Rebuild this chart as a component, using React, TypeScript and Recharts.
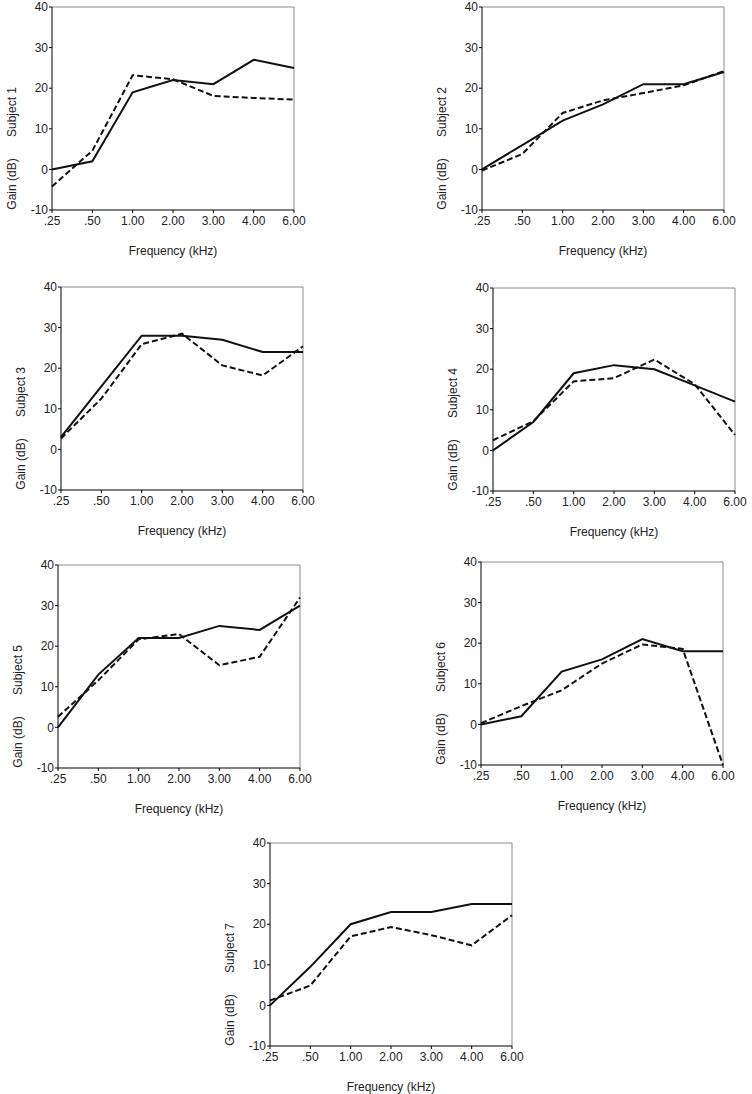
import { LineChart, Line, XAxis, YAxis, ReferenceLine } from "recharts";

const FREQS = [".25", ".50", "1.00", "2.00", "3.00", "4.00", "6.00"];
const GAIN_TICKS = [-10, 0, 10, 20, 30, 40];

// gain (dB) per frequency
const solid1 = [0, 2, 19, 22, 21, 27, 25];
const dashed1 = [-4.2, 4.6, 23.2, 22.2, 18.1, 17.6, 17.2];
const solid2 = [0, 6, 12, 16, 21, 21, 24];
const dashed2 = [-0.3, 3.8, 13.9, 17, 18.8, 20.7, 24.2];
const solid3 = [3, 15.5, 28, 28, 27, 24, 24];
const dashed3 = [2.7, 12.5, 25.9, 28.5, 20.7, 18.2, 25.4];
const solid4 = [0, 7, 19, 21, 20, 16, 12];
const dashed4 = [2.5, 7.2, 17, 17.8, 22.4, 16.3, 3.8];
const solid5 = [0, 13, 22, 22, 25, 24, 30];
const dashed5 = [2.6, 11.6, 21.7, 23, 15.3, 17.4, 32];
const solid6 = [0, 2, 13, 16, 21, 18, 18];
const dashed6 = [0.3, 4.5, 8.4, 15, 19.7, 18.6, -10];
const solid7 = [0, 9.5, 20, 23, 23, 25, 25];
const dashed7 = [1.2, 4.9, 17, 19.3, 17.3, 14.8, 22.2];

const PANELS = [
  { name: "Subject 1", solid: solid1, dashed: dashed1, x: 52, y: 7 },
  { name: "Subject 2", solid: solid2, dashed: dashed2, x: 482, y: 7 },
  { name: "Subject 3", solid: solid3, dashed: dashed3, x: 61, y: 287 },
  { name: "Subject 4", solid: solid4, dashed: dashed4, x: 493, y: 288 },
  { name: "Subject 5", solid: solid5, dashed: dashed5, x: 58, y: 565 },
  { name: "Subject 6", solid: solid6, dashed: dashed6, x: 481, y: 562 },
  { name: "Subject 7", solid: solid7, dashed: dashed7, x: 270, y: 843 },
];

const FONT = "Arial, 'Liberation Sans', sans-serif";
const TEXT = "#222";
const PLOT_W = 242;
const PLOT_H = 203;
const Y_AXIS_W = 60;
const X_AXIS_H = 60;
const TOP = 10;
const RIGHT = 16;

function Panel({ name, solid, dashed, x, y }: any) {
  const data = FREQS.map((f, i) => ({ f, solid: solid[i], dashed: dashed[i] }));
  const tick = { fontSize: 12, fill: TEXT, fontFamily: FONT };

  return (
    <div style={{ position: "absolute", left: x - Y_AXIS_W, top: y - TOP }}>
      <LineChart
        width={Y_AXIS_W + PLOT_W + RIGHT}
        height={TOP + PLOT_H + X_AXIS_H}
        data={data}
        margin={{ top: TOP, right: RIGHT, left: 0, bottom: 0 }}
      >
        <XAxis
          dataKey="f"
          height={X_AXIS_H}
          interval={0}
          tick={tick}
          tickSize={3}
          tickMargin={3}
          axisLine={{ stroke: "#000" }}
          tickLine={{ stroke: "#000" }}
          label={{
            content: ({ viewBox }: any) => (
              <text
                x={viewBox.x + viewBox.width / 2}
                y={viewBox.y + 45}
                textAnchor="middle"
                fontSize={12}
                fontFamily={FONT}
                fill={TEXT}
              >
                Frequency (kHz)
              </text>
            ),
          }}
        />
        <YAxis
          type="number"
          width={Y_AXIS_W}
          domain={[-10, 40]}
          ticks={GAIN_TICKS}
          interval={0}
          tick={tick}
          tickSize={3}
          tickMargin={1}
          axisLine={{ stroke: "#000" }}
          tickLine={{ stroke: "#000" }}
          label={{
            content: ({ viewBox }: any) => {
              const cx = viewBox.x + viewBox.width - 40;
              const top = viewBox.y;
              return (
                <g fontSize={12} fontFamily={FONT} fill={TEXT}>
                  <text
                    x={cx}
                    y={top + 105}
                    textAnchor="middle"
                    dominantBaseline="central"
                    transform={`rotate(-90, ${cx}, ${top + 105})`}
                  >
                    {name}
                  </text>
                  <text
                    x={cx}
                    y={top + 177}
                    textAnchor="middle"
                    dominantBaseline="central"
                    transform={`rotate(-90, ${cx}, ${top + 177})`}
                  >
                    Gain (dB)
                  </text>
                </g>
              );
            },
          }}
        />
        <ReferenceLine y={40} stroke="#8a8a8a" />
        <ReferenceLine x="6.00" stroke="#8a8a8a" />
        <Line
          type="linear"
          dataKey="solid"
          stroke="#111"
          strokeWidth={2}
          dot={false}
          isAnimationActive={false}
        />
        <Line
          type="linear"
          dataKey="dashed"
          stroke="#111"
          strokeWidth={2}
          strokeDasharray="6 3"
          dot={false}
          isAnimationActive={false}
        />
      </LineChart>
    </div>
  );
}

export default function App() {
  return (
    <div
      style={{
        position: "absolute",
        left: 0,
        top: 0,
        width: 752,
        height: 1094,
        background: "#fff",
      }}
    >
      {PANELS.map((p) => (
        <Panel key={p.name} {...p} />
      ))}
    </div>
  );
}
